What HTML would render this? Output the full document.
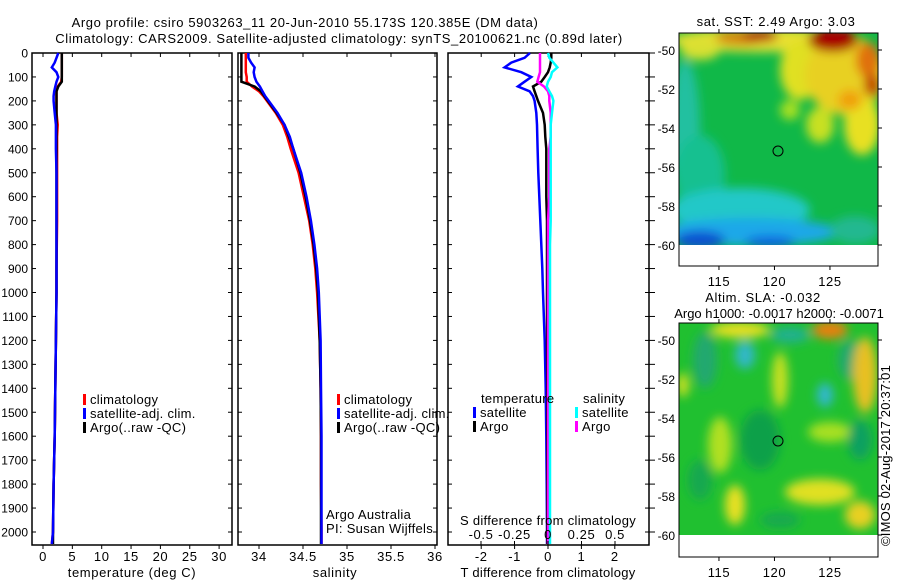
<!DOCTYPE html>
<html><head><meta charset="utf-8">
<style>
html,body{margin:0;padding:0;background:#fff;}
svg{display:block;font-family:"Liberation Sans",sans-serif;font-size:13px;letter-spacing:0.6px;}
.dl{letter-spacing:0;font-size:12px;}
.lg{letter-spacing:0.3px;}
</style></head>
<body>
<svg id="root" width="900" height="580" viewBox="0 0 900 580" xmlns="http://www.w3.org/2000/svg">
<defs>
  <filter id="blur1" x="-20%" y="-20%" width="140%" height="140%"><feGaussianBlur stdDeviation="5"/></filter>
  <clipPath id="clipTop"><rect x="679" y="33" width="199" height="212"/></clipPath>
  <clipPath id="clipBot"><rect x="679" y="323" width="199" height="212"/></clipPath>
</defs>
<text x="305" y="27" text-anchor="middle">Argo profile: csiro 5903263_11 20-Jun-2010 55.173S 120.385E (DM data)</text>
<text x="339" y="43" text-anchor="middle">Climatology: CARS2009. Satellite-adjusted climatology: synTS_20100621.nc (0.89d later)</text>

<g id="p1"></g>
<g id="p2"></g>
<g id="p3"></g>

<!-- Top map -->
<g>
  <text x="776" y="26" text-anchor="middle">sat. SST: 2.49 Argo: 3.03</text>
  <g clip-path="url(#clipTop)">
    <rect x="679" y="33" width="199" height="212" fill="#10b848"/>
    <g filter="url(#blur1)">
      <ellipse cx="685" cy="130" rx="15" ry="70" fill="#20c0a0"/>
      <ellipse cx="700" cy="175" rx="25" ry="40" fill="#18c090"/>
      <ellipse cx="740" cy="210" rx="70" ry="22" fill="#22c8c8"/>
      <ellipse cx="750" cy="232" rx="90" ry="14" fill="#1aa8e8"/>
      <ellipse cx="700" cy="240" rx="25" ry="9" fill="#1050d0"/>
      <ellipse cx="770" cy="242" rx="25" ry="6" fill="#1060e0"/>
      <ellipse cx="855" cy="230" rx="25" ry="14" fill="#20b890"/>
      <ellipse cx="760" cy="40" rx="90" ry="12" fill="#e8e030"/>
      <ellipse cx="700" cy="50" rx="20" ry="10" fill="#d8e030"/>
      <ellipse cx="800" cy="70" rx="20" ry="30" fill="#e0e020"/>
      <ellipse cx="845" cy="75" rx="40" ry="40" fill="#e8d020"/>
      <ellipse cx="862" cy="125" rx="18" ry="30" fill="#e8e020"/>
      <ellipse cx="820" cy="125" rx="14" ry="18" fill="#c8e020"/>
      <ellipse cx="790" cy="110" rx="10" ry="10" fill="#a8e020"/>
      <ellipse cx="740" cy="38" rx="25" ry="7" fill="#d08010"/>
      <ellipse cx="760" cy="36" rx="18" ry="6" fill="#b01010"/>
      <ellipse cx="833" cy="40" rx="25" ry="12" fill="#a80000"/>
      <ellipse cx="868" cy="60" rx="12" ry="18" fill="#e07010"/>
      <ellipse cx="872" cy="85" rx="8" ry="12" fill="#c04000"/>
      <ellipse cx="850" cy="100" rx="12" ry="10" fill="#f0a010"/>
    </g>
  </g>
  <rect x="679" y="245" width="199" height="21" fill="#fff"/>
  <circle cx="778" cy="151" r="5" fill="none" stroke="#000" stroke-width="1"/>
  <rect x="679" y="33" width="199" height="233" fill="none" stroke="#000" stroke-width="1"/>
  <g id="mapTopAxes"></g>
</g>

<!-- Bottom map -->
<g>
  <text x="763" y="302" text-anchor="middle">Altim. SLA: -0.032</text>
  <text x="779" y="318" text-anchor="middle" style="letter-spacing:0">Argo h1000: -0.0017 h2000: -0.0071</text>
  <g clip-path="url(#clipBot)">
    <rect x="679" y="323" width="199" height="212" fill="#20c030"/>
    <g filter="url(#blur1)">
      <ellipse cx="740" cy="330" rx="30" ry="8" fill="#e8e020"/>
      <ellipse cx="830" cy="330" rx="18" ry="9" fill="#e88010"/>
      <ellipse cx="745" cy="355" rx="10" ry="14" fill="#30b8c8"/>
      <ellipse cx="825" cy="395" rx="8" ry="12" fill="#30b8d0"/>
      <ellipse cx="790" cy="335" rx="20" ry="8" fill="#20b090"/>
      <ellipse cx="705" cy="360" rx="12" ry="28" fill="#20a870"/>
      <ellipse cx="850" cy="360" rx="12" ry="20" fill="#20a870"/>
      <ellipse cx="780" cy="380" rx="8" ry="28" fill="#c8e020"/>
      <ellipse cx="865" cy="375" rx="12" ry="38" fill="#e8c020"/>
      <ellipse cx="683" cy="385" rx="6" ry="12" fill="#d0e020"/>
      <ellipse cx="720" cy="445" rx="12" ry="28" fill="#b0e020"/>
      <ellipse cx="820" cy="492" rx="35" ry="13" fill="#e0e020"/>
      <ellipse cx="735" cy="505" rx="10" ry="20" fill="#e8e020"/>
      <ellipse cx="860" cy="515" rx="15" ry="14" fill="#e8d020"/>
      <ellipse cx="830" cy="432" rx="22" ry="10" fill="#a8e020"/>
      <ellipse cx="760" cy="440" rx="20" ry="30" fill="#10a048"/>
      <ellipse cx="700" cy="480" rx="12" ry="20" fill="#18a850"/>
      <ellipse cx="860" cy="440" rx="12" ry="20" fill="#10a060"/>
      <ellipse cx="780" cy="520" rx="20" ry="8" fill="#18a850"/>
    </g>
  </g>
  <rect x="679" y="535" width="199" height="22" fill="#fff"/>
  <circle cx="778" cy="441" r="5" fill="none" stroke="#000" stroke-width="1"/>
  <rect x="679" y="323" width="199" height="234" fill="none" stroke="#000" stroke-width="1"/>
  <g id="mapBotAxes"></g>
</g>
<text transform="translate(890,546) rotate(-90)" style="letter-spacing:0.2px">©IMOS 02-Aug-2017 20:37:01</text>
</svg>
<script>
// ---- data ----
const depth = [0,20,40,60,80,100,120,140,160,180,200,250,300,350,400,500,600,700,800,900,1000,1200,1400,1600,1800,2000,2050];
const tClim = [3.2,3.2,3.2,3.2,3.2,3.2,3.1,2.5,2.3,2.3,2.3,2.3,2.5,2.4,2.4,2.4,2.4,2.4,2.35,2.3,2.3,2.2,2.1,2.0,1.8,1.7,1.5];
const tSat  = [2.6,2.3,2.0,1.5,2.3,2.6,2.3,2.1,1.9,1.8,1.8,2.0,2.2,2.2,2.2,2.3,2.3,2.3,2.3,2.3,2.3,2.2,2.1,2.0,1.8,1.7,1.5];
const tArgo = [3.2,3.2,3.2,3.2,3.2,3.2,3.2,2.6,2.3,2.3,2.3,2.3,2.3,2.3,2.3,2.3,2.3,2.3,2.3,2.3,2.3,2.2,2.1,2.0,1.8,1.7,1.7];
const sClim = [33.85,33.85,33.85,33.85,33.85,33.86,33.86,33.92,34.0,34.05,34.09,34.19,34.27,34.32,34.36,34.45,34.51,34.57,34.61,34.64,34.66,34.69,34.70,34.705,34.705,34.71,34.71];
const sSat  = [33.88,33.88,33.91,33.95,33.94,33.95,33.97,34.01,34.04,34.07,34.11,34.21,34.29,34.35,34.39,34.48,34.54,34.59,34.63,34.66,34.68,34.70,34.705,34.71,34.71,34.71,34.71];
const sArgo = [33.8,33.8,33.8,33.8,33.8,33.8,33.8,33.95,34.02,34.06,34.1,34.2,34.29,34.34,34.39,34.47,34.53,34.58,34.62,34.65,34.67,34.69,34.70,34.705,34.705,34.705,34.705];
const dTSat  = [-0.54,-0.7,-1.1,-1.3,-0.8,-0.5,-0.7,-0.9,-0.55,-0.45,-0.4,-0.35,-0.33,-0.32,-0.31,-0.29,-0.26,-0.23,-0.2,-0.17,-0.15,-0.1,-0.07,-0.05,-0.04,-0.03,-0.03];
const dTArgo = [0.1,0.1,0.08,0.05,0.0,-0.1,-0.2,-0.45,-0.4,-0.35,-0.3,-0.15,-0.1,-0.08,-0.05,-0.05,-0.05,-0.03,-0.03,-0.03,-0.03,-0.03,-0.02,-0.02,-0.02,-0.02,-0.02];
const dSSat  = [0.0,0.01,0.04,0.07,0.03,0.02,0.0,-0.01,0.01,0.03,0.04,0.03,0.02,0.02,0.02,0.02,0.02,0.02,0.015,0.015,0.015,0.015,0.015,0.015,0.015,0.015,0.015];
const dSArgo = [-0.06,-0.06,-0.06,-0.06,-0.06,-0.07,-0.08,-0.03,0.0,0.01,0.01,0.02,0.02,0.02,0.01,0.01,0.01,0.0,0.0,0.0,0.0,0.0,0.0,0.0,0.0,0.0,0.0];
const depthTicks = [0,100,200,300,400,500,600,700,800,900,1000,1100,1200,1300,1400,1500,1600,1700,1800,1900,2000];
const tempTicks = [0,5,10,15,20,25,30];
const salTicks = [34,34.5,35,35.5,36];
const salTickLabels = ["34","34.5","35","35.5","36"];
const tdTicks = [-2,-1,0,1,2];
const sdTicks = [-0.5,-0.25,0,0.25,0.5];
const sdTickLabels = ["-0.5","-0.25","0","0.25","0.5"];
const lonTicks = [115,120,125];
const latTicks = [-50,-52,-54,-56,-58,-60];

// ---- axes ----
const NS='http://www.w3.org/2000/svg';
const TOP=53, BOT=545;
const yD = d => TOP + d*0.2395;
const xT = t => 43 + t*5.87;
const xS = s => 259 + (s-34)*88;
const xTD = t => 548 + t*33.4;
const xSD = s => 548 + s*134;
const xLon = l => 679 + (l-111.4)*11.1;
const yLatTop = l => 50 + (-50-l)*19.5;
const yLatBot = l => 340 + (-50-l)*19.5;

function el(tag, attrs, parent, txt){
  const e=document.createElementNS(NS,tag);
  for(const k in attrs) e.setAttribute(k,attrs[k]);
  if(txt!==undefined) e.textContent=txt;
  parent.appendChild(e); return e;
}
function frame(g,x0,x1){
  const r=el('rect',{x:x0,y:TOP,width:x1-x0,height:BOT-TOP,fill:'none',stroke:'#000','stroke-width':1.5},g);
  
  
}
function line(g, xs, xf, color, name){
  const pts = depth.map((d,i)=>xf(xs[i]).toFixed(1)+','+yD(d).toFixed(1)).join(' ');
  const p=el('polyline',{points:pts,fill:'none',stroke:color,'stroke-width':2.5,'stroke-linejoin':'miter'},g);
  
  
}
function legend(g,x,y,color,label,name){
  el('rect',{x:x,y:y-10,width:3,height:11,fill:color},g);
  const t=el('text',{x:x+7,y:y,'class':'lg'},g,label);
  
  
}

const p1=document.getElementById('p1'), p2=document.getElementById('p2'), p3=document.getElementById('p3');
depthTicks.forEach(d=>{
  const y=yD(d);
  const t=el('text',{x:28,y:y+4.5,'text-anchor':'end','class':'dl'},p1,String(d));
  
  
  [[32,36],[228,232],[238,242],[433,437],[448,452],[645,649],[649,655]].forEach(([a,b])=>el('line',{x1:a,x2:b,y1:y,y2:y,stroke:'#000'},p1));
});
// panel 1
frame(p1,32,232);
tempTicks.forEach(t=>{
  const x=xT(t);
  el('line',{x1:x,x2:x,y1:TOP,y2:TOP+4,stroke:'#000'},p1);
  el('line',{x1:x,x2:x,y1:BOT,y2:BOT+4,stroke:'#000'},p1);
  const l=el('text',{x:x,y:561,'text-anchor':'middle'},p1,String(t));
  
  
});
el('text',{x:132,y:577,'text-anchor':'middle',},p1,'temperature (deg C)');
line(p1,tClim,xT,'#f00','temperature-climatology-line');
line(p1,tArgo,xT,'#000','temperature-argo-line');
line(p1,tSat,xT,'#00f','temperature-satellite-line');
legend(p1,83,404,'#f00','climatology','legend-climatology');
legend(p1,83,418,'#00f','satellite-adj. clim.','legend-satellite');
legend(p1,83,432,'#000','Argo(..raw -QC)','legend-argo');

// panel 2
frame(p2,238,437);
salTicks.forEach((s,i)=>{
  const x=xS(s);
  el('line',{x1:x,x2:x,y1:TOP,y2:TOP+4,stroke:'#000'},p2);
  el('line',{x1:x,x2:x,y1:BOT,y2:BOT+4,stroke:'#000'},p2);
  const l=el('text',{x:x,y:561,'text-anchor':'middle'},p2,salTickLabels[i]);
  
  
});
el('text',{x:335,y:577,'text-anchor':'middle',},p2,'salinity');
line(p2,sClim,xS,'#f00','salinity-climatology-line');
line(p2,sArgo,xS,'#000','salinity-argo-line');
line(p2,sSat,xS,'#00f','salinity-satellite-line');
legend(p2,337,404,'#f00','climatology','legend-climatology');
legend(p2,337,418,'#00f','satellite-adj. clim.','legend-satellite');
legend(p2,337,432,'#000','Argo(..raw -QC)','legend-argo');
el('text',{x:326,y:519,'class':'lg',},p2,'Argo Australia');
el('text',{x:326,y:533,'class':'lg',},p2,'PI: Susan Wijffels');

// panel 3
frame(p3,448,649);
tdTicks.forEach(t=>{
  const x=xTD(t);
  el('line',{x1:x,x2:x,y1:TOP,y2:TOP+4,stroke:'#000'},p3);
  el('line',{x1:x,x2:x,y1:BOT,y2:BOT+4,stroke:'#000'},p3);
  const l=el('text',{x:x,y:561,'text-anchor':'middle'},p3,String(t));
  
  
});
line(p3,dTSat,xTD,'#00f','t-diff-satellite-line');
line(p3,dTArgo,xTD,'#000','t-diff-argo-line');
line(p3,dSArgo,xSD,'#f0f','s-diff-argo-line');
line(p3,dSSat,xSD,'#0ff','s-diff-satellite-line');
sdTicks.forEach((s,i)=>{
  const x=xSD(s);
  el('line',{x1:x,x2:x,y1:BOT-4,y2:BOT,stroke:'#000'},p3);
  const l=el('text',{x:x,y:539,'text-anchor':'middle'},p3,sdTickLabels[i]);
  
  
});
el('text',{x:548,y:525,'text-anchor':'middle','class':'lg',},p3,'S difference from climatology');
el('text',{x:548,y:577,'text-anchor':'middle','class':'lg',},p3,'T difference from climatology');
el('text',{x:481,y:403,'class':'lg',},p3,'temperature');
legend(p3,473,417,'#00f','satellite','legend-t-satellite');
legend(p3,473,431,'#000','Argo','legend-t-argo');
el('text',{x:583,y:403,'class':'lg',},p3,'salinity');
legend(p3,575,417,'#0ff','satellite','legend-s-satellite');
legend(p3,575,431,'#f0f','Argo','legend-s-argo');

// map axes
function mapAxes(g, yTop, yBot, yLat){
  lonTicks.forEach(l=>{
    const x=xLon(l);
    el('line',{x1:x,x2:x,y1:yTop-4,y2:yTop,stroke:'#000'},g);
    el('line',{x1:x,x2:x,y1:yBot,y2:yBot+4,stroke:'#000'},g);
    const t=el('text',{x:x,y:yBot+20,'text-anchor':'middle'},g,String(l));
    
    
  });
  latTicks.forEach(l=>{
    const y=yLat(l);
    el('line',{x1:878,x2:882,y1:y,y2:y,stroke:'#000'},g);
    const t=el('text',{x:675,y:y+5,'text-anchor':'end','class':'dl'},g,String(l));
    
    
  });
}
mapAxes(document.getElementById('mapTopAxes'),33,266,yLatTop);
mapAxes(document.getElementById('mapBotAxes'),323,557,yLatBot);
</script>
</body></html>
